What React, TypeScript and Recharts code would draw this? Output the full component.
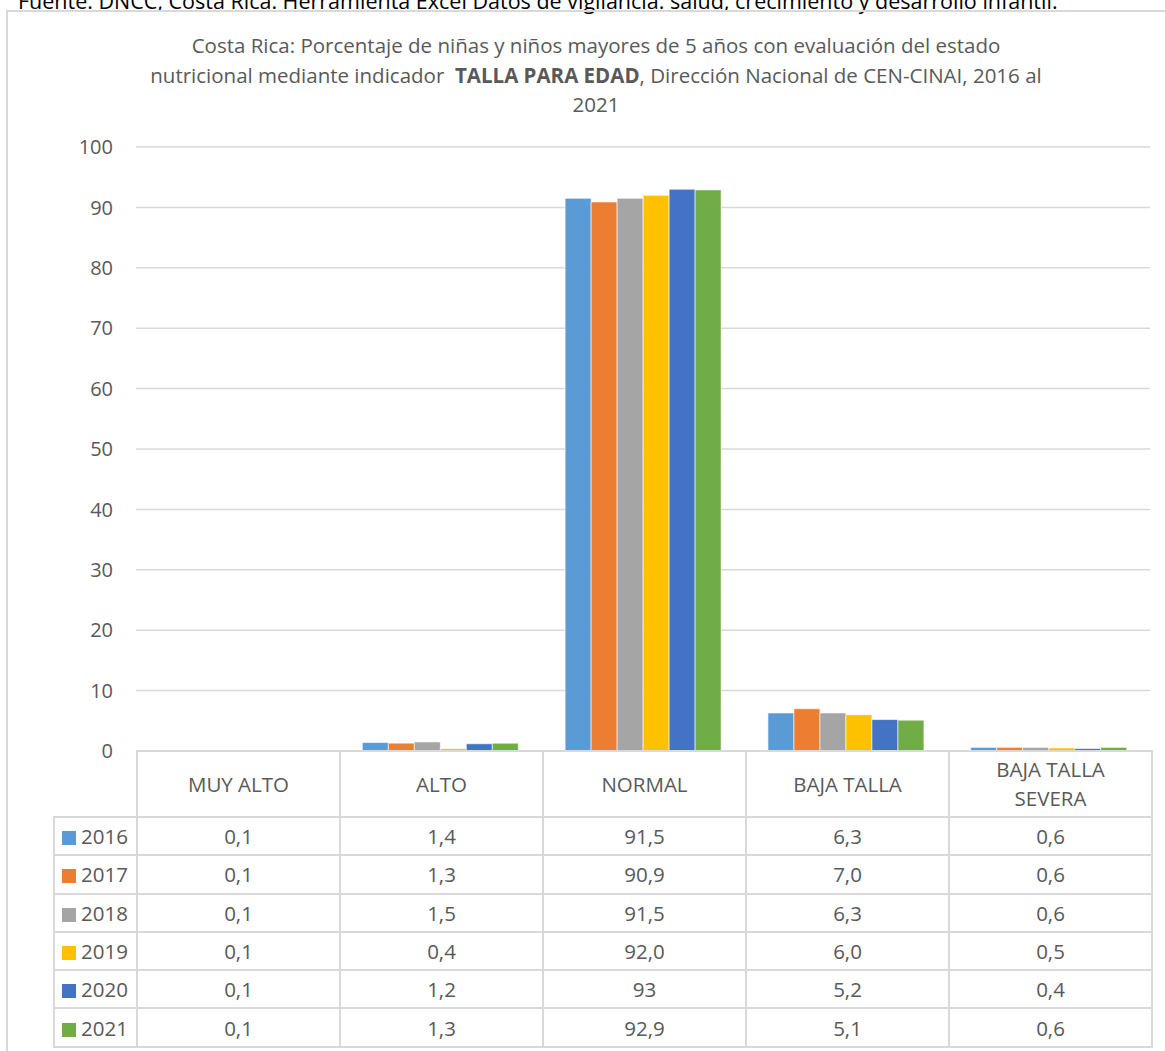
import React from "react";
import { BarChart, Bar, CartesianGrid, XAxis, YAxis } from "recharts";

const categories = ["MUY ALTO", "ALTO", "NORMAL", "BAJA TALLA", "BAJA TALLA SEVERA"];
const years = ["2016", "2017", "2018", "2019", "2020", "2021"];
const colors = ["#5B9BD5", "#ED7D31", "#A5A5A5", "#FFC000", "#4472C4", "#70AD47"];

// values as printed in the data table (decimal comma)
const v2016 = ["0,1", "1,4", "91,5", "6,3", "0,6"];
const v2017 = ["0,1", "1,3", "90,9", "7,0", "0,6"];
const v2018 = ["0,1", "1,5", "91,5", "6,3", "0,6"];
const v2019 = ["0,1", "0,4", "92,0", "6,0", "0,5"];
const v2020 = ["0,1", "1,2", "93", "5,2", "0,4"];
const v2021 = ["0,1", "1,3", "92,9", "5,1", "0,6"];

const yTicks = [0, 10, 20, 30, 40, 50, 60, 70, 80, 90, 100];

const series = [v2016, v2017, v2018, v2019, v2020, v2021];
const toNum = (s: string) => parseFloat(s.replace(",", "."));

const data = categories.map((c, i) => {
  const row: Record<string, string | number> = { name: c };
  years.forEach((y, j) => {
    row[y] = toNum(series[j][i]);
  });
  return row;
});

const grey = "#595959";
const line = "2px solid #d9d9d9";
const font = '"Open Sans", "Noto Sans", sans-serif';

export default function App() {
  return (
    <div
      style={{
        position: "absolute",
        left: 0,
        top: 0,
        width: 1165,
        height: 1051,
        overflow: "hidden",
        background: "#fff",
        fontFamily: font,
      }}
    >
      <div
        style={{
          position: "absolute",
          left: 18,
          top: -14,
          fontSize: 21.5,
          color: "#000",
          whiteSpace: "nowrap",
          lineHeight: "29px",
        }}
      >
        Fuente: DNCC, Costa Rica. Herramienta Excel Datos de vigilancia: salud, crecimiento y desarrollo infantil.
      </div>
      <div
        style={{
          position: "absolute",
          left: 6,
          top: 10,
          width: 1200,
          height: 1100,
          border: line,
        }}
      />
      <div
        style={{
          position: "absolute",
          left: 96,
          width: 1000,
          top: 31,
          textAlign: "center",
          color: grey,
          fontSize: 20.5,
          lineHeight: "29.5px",
          whiteSpace: "pre",
        }}
      >
        <div>Costa Rica: Porcentaje de niñas y niños mayores de 5 años con evaluación del estado</div>
        <div>
          nutricional mediante indicador  <b>TALLA PARA EDAD</b>, Dirección Nacional de CEN-CINAI, 2016 al
        </div>
        <div>2021</div>
      </div>
      <div style={{ position: "absolute", left: 0, top: 0 }}>
        <BarChart
          width={1165}
          height={770}
          data={data}
          margin={{ top: 147, right: 15, bottom: 19, left: 76 }}
          barCategoryGap="11.6%"
          barGap={0}
        >
          <CartesianGrid vertical={false} stroke="#d9d9d9" strokeWidth={1.5} />
          <XAxis dataKey="name" hide />
          <YAxis
            width={60}
            domain={[0, 100]}
            ticks={yTicks}
            interval={0}
            axisLine={false}
            tickLine={false}
            tickMargin={17}
            tick={{ fontSize: 20, fill: grey, fontFamily: font }}
          />
          {years.map((y, j) => (
            <Bar
              key={y}
              dataKey={y}
              fill={colors[j]}
              stroke="#fff"
              strokeWidth={0.6}
              isAnimationActive={false}
            />
          ))}
        </BarChart>
      </div>
      <table
        style={{
          position: "absolute",
          left: 53,
          top: 750,
          width: 1098,
          borderCollapse: "collapse",
          tableLayout: "fixed",
          color: grey,
          fontSize: 20.5,
          fontFamily: font,
          textAlign: "center",
        }}
      >
        <colgroup>
          <col style={{ width: 83 }} />
          {categories.map((c) => (
            <col key={c} style={{ width: 203 }} />
          ))}
        </colgroup>
        <tbody>
          <tr style={{ height: 66 }}>
            <td style={{ border: "none" }} />
            {categories.map((c) => (
              <td key={c} style={{ border: line, padding: "0 24px", lineHeight: "29px" }}>
                {c}
              </td>
            ))}
          </tr>
          {years.map((y, j) => (
            <tr key={y} style={{ height: 38.3 }}>
              <td style={{ border: line, textAlign: "left", padding: "0 0 0 7px", whiteSpace: "nowrap" }}>
                <span
                  style={{
                    display: "inline-block",
                    width: 14,
                    height: 14,
                    background: colors[j],
                    marginRight: 5,
                    verticalAlign: "-1px",
                  }}
                />
                {y}
              </td>
              {series[j].map((v, i) => (
                <td key={i} style={{ border: line, padding: 0 }}>
                  {v}
                </td>
              ))}
            </tr>
          ))}
        </tbody>
      </table>
    </div>
  );
}
